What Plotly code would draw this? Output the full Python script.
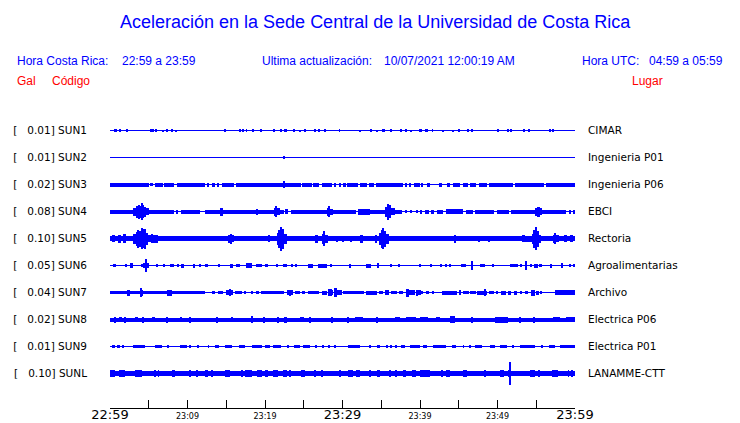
import plotly.graph_objects as go

# ---------------- data ----------------
STATIONS = ["SUN1", "SUN2", "SUN3", "SUN4", "SUN5", "SUN6", "SUN7", "SUN8", "SUN9", "SUNL"]
SCALES_GAL = ["0.01", "0.01", "0.02", "0.08", "0.10", "0.05", "0.04", "0.02", "0.01", "0.10"]
PLACES = ["CIMAR", "Ingenieria P01", "Ingenieria P06", "EBCI", "Rectoria",
          "Agroalimentarias", "Archivo", "Electrica P06", "Electrica P01", "LANAMME-CTT"]

TICK_MINUTES = [0, 5, 10, 15, 20, 25, 30, 35, 40, 45, 50, 55, 60]
TICK_LABELS = ["22:59", "", "23:09", "", "23:19", "", "23:29", "", "23:39", "", "23:49", "", "23:59"]
MAJOR_LABELS = ["22:59", "23:29", "23:59"]

# signal envelope segments: (start minute, end minute, half amplitude in px)
SEG_SUN1 = [(0.55, 0.7, 1.5), (0.75, 0.85, 1.5), (1.25, 1.4, 1.5), (2.1, 2.25, 1.5), (5.15, 5.7, 1.5),
            (5.85, 5.97, 1.5), (6.75, 6.87, 1), (7.35, 7.47, 1.5), (7.95, 8.07, 1.5), (8.45, 8.57, 1),
            (14.75, 14.9, 1.5), (16.75, 16.87, 1.5), (17.05, 17.2, 1.5), (17.55, 17.67, 1.5),
            (18.35, 18.47, 1.5), (19.45, 19.6, 1.5), (21.15, 21.27, 1.5), (22.05, 22.17, 1.5),
            (22.4, 22.8, 1.5), (23.65, 23.77, 1.5), (24.45, 24.57, 1), (25.15, 25.27, 1.5),
            (26.35, 26.47, 1.5), (26.95, 27.07, 1.5), (27.65, 27.77, 1.5), (29.55, 29.67, 1.5),
            (32.15, 32.27, 1), (33.65, 33.77, 1.5), (34.35, 34.47, 1), (35.1, 35.5, 1.5),
            (36.25, 36.37, 1.5), (37.45, 37.57, 1.5), (38.15, 38.27, 1.5), (38.75, 38.87, 1),
            (39.85, 40.2, 1.5), (40.6, 41.0, 1.5), (41.55, 41.67, 1.5), (42.85, 42.97, 1),
            (44.15, 44.27, 1), (44.95, 45.07, 1.5), (46.15, 46.27, 1.5), (46.65, 46.77, 1.5),
            (50.05, 50.17, 1.5), (51.35, 51.47, 1.5), (51.65, 51.77, 1.5), (53.25, 53.55, 1.5),
            (54.05, 54.17, 1.5), (56.75, 56.87, 1.5), (57.05, 57.17, 1.5)]
SEG_SUN2 = [(22.35, 22.48, 1.8)]
SEG_SUN3 = [(0, 5.0, 2), (5.2, 5.5, 1.5), (5.8, 6.8, 2), (7.0, 8.2, 2), (8.6, 12.3, 2), (12.5, 12.8, 2),
            (13.2, 13.6, 2), (13.9, 14.1, 2), (14.4, 16.0, 2), (16.2, 19.9, 2), (19.9, 22.3, 2),
            (22.35, 22.48, 3.3), (22.5, 24.6, 2), (24.8, 26.0, 2), (26.2, 27.0, 2), (27.3, 28.6, 2),
            (29.0, 29.2, 2), (29.6, 29.8, 2), (30.0, 30.4, 2), (30.6, 32.0, 2), (32.2, 33.2, 2),
            (33.4, 34.0, 2), (34.3, 37.8, 2), (38.0, 38.3, 2), (38.6, 38.9, 2), (39.2, 40.0, 2),
            (40.1, 40.4, 2), (40.9, 41.3, 2), (42.4, 42.8, 2), (43.5, 43.9, 2), (44.3, 45.2, 2),
            (45.5, 46.2, 2), (46.5, 47.2, 2), (47.6, 48.6, 2), (48.9, 52.0, 2), (52.2, 56.0, 2),
            (56.2, 60.0, 2)]
SEG_SUN4 = [(0, 3.0, 2), (3.0, 3.4, 4), (3.4, 3.7, 6), (3.7, 3.85, 7), (3.85, 4.0, 6), (4.0, 4.15, 8.8),
            (4.15, 4.4, 6.5), (4.4, 4.7, 5), (4.7, 5.0, 3.5), (5.0, 8.2, 2), (8.5, 8.8, 2), (9.2, 11.6, 2),
            (12.3, 14.2, 2), (14.2, 14.6, 4), (14.6, 18.8, 2), (18.85, 18.97, 3), (19.0, 21.1, 2),
            (21.1, 21.4, 4), (21.4, 21.6, 5.7), (21.6, 21.9, 3.5), (21.9, 22.5, 2), (22.6, 23.0, 2.5),
            (23.3, 28.0, 2), (28.0, 28.2, 4), (28.2, 28.4, 5.5), (28.4, 28.8, 3), (28.8, 31.8, 2),
            (32.0, 33.5, 3), (33.5, 35.5, 2), (35.5, 35.8, 5), (35.8, 36.0, 8), (36.0, 36.3, 6.5),
            (36.3, 36.8, 3.5), (36.8, 37.7, 2), (38.0, 38.3, 1.5), (38.7, 39.0, 1.5), (39.5, 39.8, 1.5),
            (40.0, 40.3, 2), (40.7, 41.1, 2), (41.4, 41.8, 2), (42.2, 43.0, 2), (43.3, 45.6, 2.2),
            (45.9, 46.8, 2), (47.1, 49.6, 2), (49.9, 51.5, 2), (51.8, 54.9, 2), (54.9, 55.2, 4),
            (55.2, 55.45, 5), (55.45, 55.8, 3.5), (55.8, 58.8, 2), (59.3, 59.42, 2), (59.8, 60.0, 2)]
SEG_SUN5 = [(0, 60, 2.2), (0.3, 0.6, 3.5), (1.0, 1.4, 4), (1.7, 2.0, 4.5), (3.0, 3.3, 5), (3.3, 3.6, 7),
            (3.6, 3.8, 9), (3.8, 4.0, 8), (4.0, 4.2, 10.5), (4.2, 4.4, 9.5), (4.4, 4.6, 10), (4.6, 4.9, 6),
            (4.9, 5.3, 3.5), (5.3, 5.6, 4.5), (5.6, 6.2, 4), (15.2, 15.5, 4), (15.5, 15.7, 5),
            (15.7, 16.0, 3.5), (20.5, 20.7, 3.5), (21.6, 21.8, 6), (21.8, 22.0, 9), (22.0, 22.2, 12),
            (22.2, 22.4, 10), (22.4, 22.8, 5), (23.6, 24.5, 2.8), (26.5, 26.8, 4), (27.4, 27.6, 5),
            (27.6, 27.8, 7.5), (27.8, 28.1, 4), (29.2, 29.4, 3), (30.0, 30.2, 3), (31.0, 31.12, 3),
            (32.2, 32.6, 4), (34.3, 34.5, 4), (34.8, 35.0, 6), (35.0, 35.2, 9), (35.2, 35.4, 10.7),
            (35.4, 35.6, 8), (35.6, 36.0, 5), (44.4, 44.6, 4), (47.5, 47.62, 3), (48.9, 49.02, 3),
            (53.2, 53.6, 3.5), (53.6, 54.5, 3), (54.5, 54.7, 5), (54.7, 54.9, 9), (54.9, 55.1, 11.5),
            (55.1, 55.3, 8), (55.3, 55.6, 4), (57.2, 57.4, 4), (57.4, 57.6, 5.3), (57.6, 57.9, 3.5),
            (58.6, 59.0, 3.5), (59.3, 59.8, 3.5)]
SEG_SUN6 = [(0.45, 0.75, 1.7), (1.95, 2.1, 1.7), (2.7, 2.95, 2.5), (4.0, 4.3, 1.7), (4.3, 4.6, 2.5),
            (4.6, 4.75, 6.3), (4.75, 5.0, 2.5), (5.95, 6.07, 1.7), (6.85, 6.97, 1.5), (7.7, 8.2, 1.7),
            (8.6, 8.9, 1.7), (9.1, 9.5, 2), (10.75, 10.87, 2), (11.6, 11.72, 1.5), (12.3, 12.7, 1.7),
            (14.0, 14.12, 1.5), (15.5, 15.9, 2), (16.3, 16.8, 1.7), (17.6, 18.3, 2.2), (18.9, 19.6, 1.7),
            (20.0, 20.4, 1.7), (21.45, 21.57, 1.5), (22.3, 22.9, 1.7), (23.45, 23.57, 1.5),
            (23.95, 24.1, 1.5), (25.5, 26.2, 2), (26.8, 28.0, 2), (28.4, 28.6, 1.7), (30.8, 31.1, 2),
            (33.0, 33.7, 2), (34.5, 34.7, 2.2), (36.25, 36.4, 1.7), (37.2, 37.4, 1.7), (39.9, 40.1, 1.7),
            (41.3, 41.5, 1.7), (42.6, 42.8, 1.7), (43.3, 43.5, 1.5), (43.8, 44.0, 1.5), (45.3, 45.9, 1.7),
            (46.68, 46.8, 4.5), (47.8, 48.4, 1.7), (49.3, 49.5, 1.5), (51.6, 52.7, 1.7), (53.0, 53.2, 1.5),
            (53.63, 53.75, 4.5), (54.3, 54.5, 1.7), (54.7, 55.2, 2), (55.4, 55.8, 1.7), (56.8, 57.0, 2),
            (58.2, 58.5, 2.5), (59.3, 59.5, 1.5), (59.8, 59.92, 1.5)]
SEG_SUN7 = [(0, 12.3, 1.7), (2.2, 2.6, 3), (3.9, 4.1, 4.3), (4.1, 4.3, 3), (7.4, 8.0, 3), (13.2, 13.6, 1.7),
            (13.9, 14.6, 1.7), (15.0, 15.9, 2.5), (15.3, 15.6, 3.5), (16.1, 17.0, 1.7), (17.4, 17.6, 1.7),
            (18.2, 18.4, 1.7), (18.8, 19.2, 1.7), (19.5, 20.0, 1.7), (20.0, 22.5, 1.7), (22.9, 23.6, 2.2),
            (23.1, 23.3, 3), (23.9, 24.5, 1.7), (24.8, 25.2, 1.7), (25.5, 27.0, 1.7), (27.3, 28.0, 2),
            (28.1, 28.6, 3.5), (28.6, 28.8, 2.5), (28.9, 29.3, 4.5), (29.3, 29.9, 2.5), (30.1, 32.8, 1.7),
            (33.0, 34.4, 2), (34.7, 35.2, 1.7), (35.5, 36.0, 2.5), (36.3, 37.0, 1.7), (37.3, 37.8, 1.7),
            (38.2, 38.6, 4), (38.6, 39.3, 2.5), (39.5, 39.62, 3), (39.8, 40.1, 2.5), (40.0, 40.4, 1.7),
            (40.8, 41.1, 1.7), (41.6, 41.8, 1.7), (42.9, 44.8, 2), (45.0, 45.3, 2.5), (45.6, 46.3, 1.7),
            (46.5, 47.2, 1.7), (47.4, 48.6, 2), (48.3, 48.5, 3.5), (48.9, 49.5, 1.7), (49.8, 50.1, 1.7),
            (50.5, 51.1, 2), (51.3, 51.7, 2), (52.1, 52.5, 2), (52.9, 53.2, 1.7), (53.6, 53.9, 1.7),
            (54.3, 54.8, 3), (55.0, 55.3, 2), (55.5, 55.62, 1.5), (57.4, 60.0, 2.5)]
SEG_SUN8 = [(0, 60, 2), (0.55, 0.67, 3), (1.1, 1.5, 2.7), (1.85, 1.97, 3), (3.2, 3.6, 2.8), (4.25, 4.37, 3),
            (5.4, 5.8, 2.8), (7.25, 7.37, 3), (9.15, 9.27, 2.8), (10.25, 10.37, 3), (13.75, 13.87, 3),
            (15.65, 15.77, 2.8), (18.25, 18.37, 3.5), (19.85, 19.97, 3), (21.65, 21.77, 3), (22.4, 22.8, 3),
            (24.5, 25.0, 2.8), (25.75, 25.87, 3), (28.55, 28.67, 3), (30.65, 30.77, 3), (31.6, 32.6, 2.7),
            (34.35, 34.47, 3), (36.8, 37.4, 2.8), (38.2, 39.5, 2.7), (40.0, 41.0, 2.7), (42.0, 42.6, 2.8),
            (43.9, 44.5, 3.5), (46.65, 46.77, 3), (49.7, 51.4, 3), (52.9, 53.02, 3), (54.6, 54.72, 3),
            (57.2, 58.0, 2.8), (58.9, 60.0, 2.8)]
SEG_SUN9 = [(0.2, 0.65, 1.3), (0.86, 1.3, 1.3), (1.65, 1.77, 1.3), (3.0, 4.5, 1.3), (5.8, 6.7, 1.3),
            (7.45, 7.57, 1.3), (9.0, 9.9, 1.3), (10.3, 10.5, 1.3), (11.35, 11.47, 1.3), (12.65, 12.77, 1.3),
            (13.5, 14.0, 1.3), (14.8, 15.7, 1.3), (16.6, 17.4, 1.3), (18.3, 19.6, 1.3), (19.96, 20.6, 1.3),
            (21.0, 22.1, 1.3), (22.95, 23.07, 1.3), (23.8, 24.5, 1.3), (24.9, 25.8, 1.3), (26.55, 26.67, 1.3),
            (27.45, 27.57, 1.3), (28.25, 28.37, 1.3), (28.95, 29.07, 1.3), (30.7, 32.2, 1.3),
            (33.45, 33.57, 1.3), (34.4, 34.8, 1.3), (35.65, 35.77, 1.3), (36.25, 36.37, 1.3),
            (36.85, 36.97, 1.3), (37.6, 38.0, 1.3), (38.7, 40.0, 1.3), (40.4, 40.9, 1.3), (41.7, 43.4, 1.3),
            (44.1, 44.7, 1.3), (45.55, 45.67, 1.3), (46.45, 46.57, 1.3), (47.1, 48.0, 1.3), (49.0, 49.7, 1.3),
            (50.3, 51.2, 1.3), (51.95, 52.07, 1.3), (52.9, 54.8, 1.3), (55.65, 55.77, 1.3), (56.6, 57.4, 1.3),
            (58.1, 60.0, 1.3)]
SEG_SUNL = [(0, 60, 2.5), (0, 0.65, 3.5), (1.1, 1.9, 3.5), (3.2, 4.1, 3.5), (5.8, 5.92, 3.5), (6.2, 6.32, 3.5),
            (8.0, 8.4, 3.5), (10.3, 10.5, 3.5), (11.15, 11.27, 3.5), (12.3, 12.7, 3.5), (13.1, 13.22, 3.5),
            (14.8, 15.5, 3.5), (17.0, 17.12, 3.5), (17.4, 18.3, 3.5), (19.0, 19.6, 3.5), (20.0, 20.4, 3.5),
            (21.0, 21.7, 3.5), (22.3, 22.8, 3.5), (23.2, 23.32, 3.5), (24.7, 25.1, 3.5), (26.4, 26.52, 3.5),
            (27.2, 27.5, 3.5), (29.6, 29.72, 3.5), (30.7, 31.4, 3.5), (31.8, 32.2, 3.5), (33.5, 33.62, 3.5),
            (34.4, 34.8, 3.5), (36.1, 36.22, 3.5), (36.9, 37.02, 3.5), (37.8, 38.2, 3.5), (39.0, 39.5, 3.5),
            (40.0, 41.3, 3.5), (42.8, 42.92, 3.5), (43.4, 43.9, 3.5), (45.6, 46.0, 3.5), (48.35, 48.47, 3.5),
            (50.3, 50.8, 3.5), (51.4, 51.8, 3.5), (51.55, 51.67, 11.5), (54.2, 54.8, 3.5), (55.25, 55.37, 3.5),
            (57.0, 57.8, 3.5), (59.1, 59.22, 3.5), (59.5, 59.62, 3.5)]

SEGMENTS = [SEG_SUN1, SEG_SUN2, SEG_SUN3, SEG_SUN4, SEG_SUN5, SEG_SUN6, SEG_SUN7, SEG_SUN8, SEG_SUN9, SEG_SUNL]

# ---------------- layout constants ----------------
W, H = 740, 423
PLOT_L, PLOT_R, PLOT_T, PLOT_B = 110, 575, 110, 408
ROW_PX = 27            # vertical spacing between stations in px
FIRST_ROW_PX = 130.5   # centre of first trace (half pixel so 1px lines are crisp)
BLUE = "#0000ff"
RED = "#ff0000"

y_top = (PLOT_T - FIRST_ROW_PX) / ROW_PX
y_bottom = (PLOT_B - FIRST_ROW_PX) / ROW_PX

fig = go.Figure()

for i, segs in enumerate(SEGMENTS):
    # thin baseline of the trace
    fig.add_trace(go.Scatter(x=[0, 60], y=[i, i], mode="lines",
                             line=dict(color=BLUE, width=1), hoverinfo="skip", showlegend=False))
    xs = [(s + e) / 2 for s, e, h in segs]
    ws = [(e - s) for s, e, h in segs]
    bases = [i - h / ROW_PX for s, e, h in segs]
    hs = [2 * h / ROW_PX for s, e, h in segs]
    fig.add_trace(go.Bar(x=xs, y=hs, base=bases, width=ws,
                         marker=dict(color=BLUE, line=dict(width=0)),
                         hoverinfo="skip", showlegend=False))

# right-side axis carrier (invisible trace)
fig.add_trace(go.Scatter(x=[None], y=[None], yaxis="y2", showlegend=False, hoverinfo="skip"))

ticktext = []
for t in TICK_LABELS:
    if t in MAJOR_LABELS:
        ticktext.append('<span style="font-size:13px">' + t + '</span>')
    else:
        ticktext.append(t)

left_labels = ["[\u00a0\u00a0\u00a0" + s + "] " + n for s, n in zip(SCALES_GAL, STATIONS)]

fig.update_layout(
    width=W, height=H,
    margin=dict(l=PLOT_L, r=W - PLOT_R, t=PLOT_T, b=H - PLOT_B, pad=0),
    paper_bgcolor="white", plot_bgcolor="white",
    barmode="overlay", bargap=0,
    showlegend=False,
    xaxis=dict(range=[0, 60], tickvals=TICK_MINUTES, ticktext=ticktext,
               ticks="inside", ticklen=8, tickwidth=1, tickcolor="black",
               showline=True, linecolor="black", linewidth=1,
               showgrid=False, zeroline=False, automargin=False,
               tickfont=dict(family="DejaVu Sans", size=8, color="black")),
    yaxis=dict(range=[y_bottom, y_top], tickvals=list(range(len(STATIONS))), ticktext=left_labels,
               showgrid=False, zeroline=False, showline=False, ticks="", automargin=False,
               ticklabelstandoff=22,
               tickfont=dict(family="DejaVu Sans", size=10.5, color="black")),
    yaxis2=dict(range=[y_bottom, y_top], overlaying="y", side="right",
                tickvals=list(range(len(PLACES))), ticktext=PLACES,
                showgrid=False, zeroline=False, showline=False, ticks="", automargin=False,
                ticklabelstandoff=12,
                tickfont=dict(family="DejaVu Sans", size=10.5, color="black")),
)


def px_x(px):
    return (px - PLOT_L) / (PLOT_R - PLOT_L)


def px_y(py):
    return (PLOT_B - py) / (PLOT_B - PLOT_T)


def note(text, x, y, color, size, anchor="left"):
    fig.add_annotation(text=text, x=px_x(x), y=px_y(y), xref="paper", yref="paper",
                       xanchor=anchor, yanchor="middle", showarrow=False,
                       font=dict(family="Liberation Sans", size=size, color=color))


note("Aceleración en la Sede Central de la Universidad de Costa Rica", 375, 22, BLUE, 18, "center")
note("Hora Costa Rica:", 15, 61, BLUE, 12)
note("22:59 a 23:59", 120, 61, BLUE, 12)
note("Ultima actualización:", 260, 61, BLUE, 12)
note("10/07/2021 12:00:19 AM", 382, 61, BLUE, 12)
note("Hora UTC:", 580, 61, BLUE, 12)
note("04:59 a 05:59", 725, 61, BLUE, 12, "right")
note("Gal", 15, 81, RED, 12)
note("Código", 50, 81, RED, 12)
note("Lugar", 630, 81, RED, 12)

fig.write_html("out.html", config={"displayModeBar": False},
               post_script="document.body.style.margin='0';")
